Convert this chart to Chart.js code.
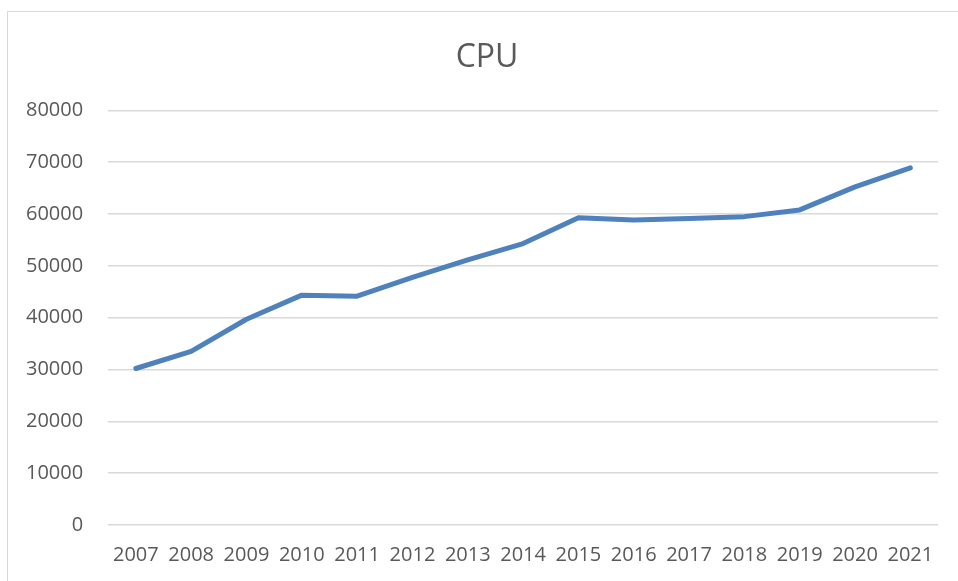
<!DOCTYPE html>
<html>
<head>
<meta charset="utf-8">
<script src="https://cdn.jsdelivr.net/npm/chart.js@4"></script>
<style>
  html, body { margin: 0; padding: 0; background: #fff; overflow: hidden; }
  #wrap { position: relative; width: 958px; height: 581px; }
  #frame { position: absolute; left: 7px; top: 11px; width: 1000px; height: 1000px;
           border: 1.5px solid #d9d9d9; box-sizing: border-box; pointer-events: none; }
  canvas { position: absolute; left: 0; top: 0; }
</style>
</head>
<body>
<div id="wrap">
  <canvas id="c" width="958" height="581"></canvas>
  <div id="frame"></div>
</div>
<script>
const years = ['2007','2008','2009','2010','2011','2012','2013','2014','2015','2016','2017','2018','2019','2020','2021'];
const cpuValues = [30200, 33500, 39700, 44350, 44150, 47800, 51150, 54300, 59300, 58850, 59150, 59500, 60800, 65250, 68900];
const yTicks = [0, 10000, 20000, 30000, 40000, 50000, 60000, 70000, 80000];
const chartTitle = 'CPU';

const font = "'Open Sans', 'Liberation Sans', sans-serif";

// Centre the title over the whole chart frame rather than the padded layout box
const titleShift = {
  id: 'titleShift',
  afterLayout(chart) {
    if (chart.titleBlock) { chart.titleBlock.left = 36; }
  }
};

new Chart(document.getElementById('c'), {
  type: 'line',
  plugins: [titleShift],
  data: {
    labels: years,
    datasets: [{
      label: chartTitle,
      data: cpuValues,
      borderColor: '#4f81bd',
      backgroundColor: '#4f81bd',
      borderWidth: 5,
      borderCapStyle: 'round',
      borderJoinStyle: 'round',
      pointRadius: 0,
      tension: 0,
      fill: false
    }]
  },
  options: {
    responsive: false,
    animation: false,
    devicePixelRatio: 1,
    layout: { padding: { left: 1, right: 20, top: 0, bottom: -4 } },
    plugins: {
      legend: { display: false },
      tooltip: { enabled: false },
      title: {
        display: true,
        text: chartTitle,
        color: '#595959',
        font: { family: font, size: 32, weight: 'normal' },
        padding: { top: 39, bottom: 33 }
      }
    },
    scales: {
      x: {
        offset: true,
        grid: { display: false, drawTicks: false },
        border: { display: false },
        ticks: { color: '#595959', font: { family: font, size: 20 }, padding: 18, maxRotation: 0, autoSkip: false }
      },
      y: {
        min: yTicks[0],
        max: yTicks[yTicks.length - 1],
        afterBuildTicks: (axis) => { axis.ticks = yTicks.map(v => ({ value: v })); },
        grid: { color: '#d9d9d9', lineWidth: 1.5, drawTicks: false },
        border: { display: false },
        ticks: { color: '#595959', font: { family: font, size: 20 }, padding: 25, callback: (v) => String(v) }
      }
    }
  }
});
</script>
</body>
</html>
